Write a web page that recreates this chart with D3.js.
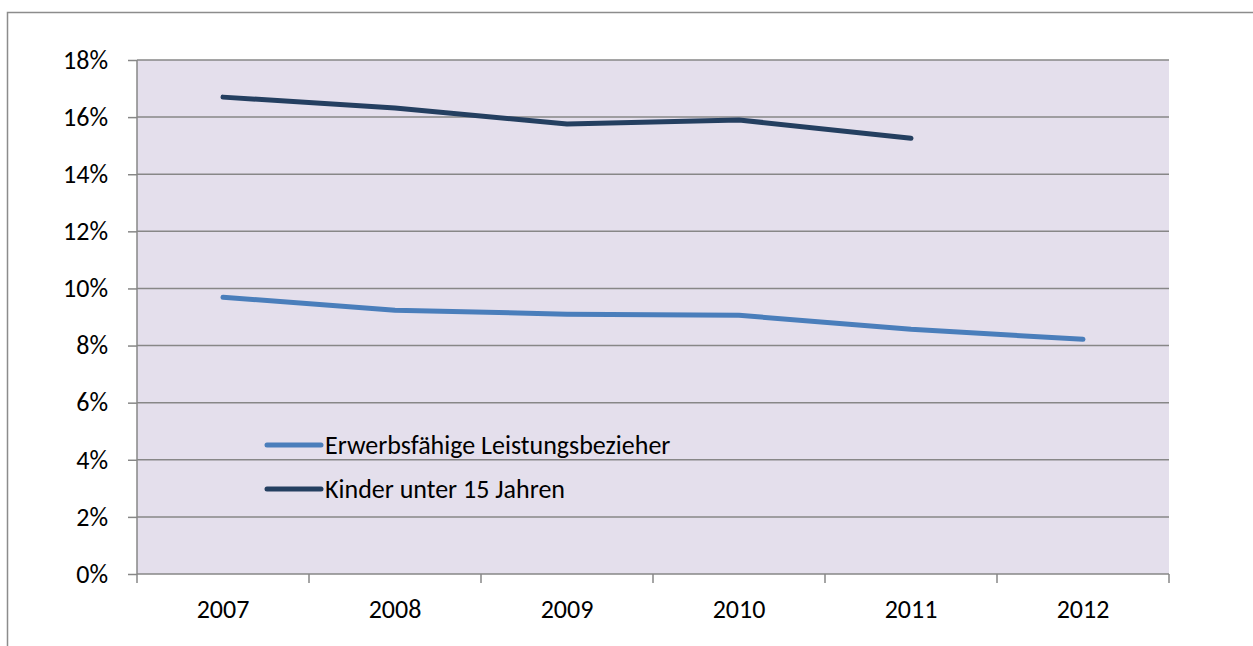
<!DOCTYPE html>
<html>
<head>
<meta charset="utf-8">
<style>
  body { margin: 0; background: #fff; }
  svg text { font-family: Carlito, Calibri, Lato, "Open Sans", sans-serif; fill: #000; }
</style>
<title>Leistungsbezieher 2007-2012</title>
</head>
<body>
<script src="https://cdn.jsdelivr.net/npm/d3@7"></script>
<script>
  // data (share in %)
  var years = ["2007", "2008", "2009", "2010", "2011", "2012"];
  var erwerbsfaehige = [9.69, 9.24, 9.10, 9.06, 8.57, 8.22];
  var kinder = [16.70, 16.32, 15.76, 15.90, 15.26, null];
  var yTicks = [0, 2, 4, 6, 8, 10, 12, 14, 16, 18];
  var seriesNames = ["Erwerbsfähige Leistungsbezieher", "Kinder unter 15 Jahren"];
  var seriesColors = ["#4a7ebb", "#243f60"];

  var width = 1253, height = 646;
  var plot = { left: 137, right: 1169, top: 60, bottom: 574 };
  var fontSize = 26;

  var svg = d3.select("body").append("svg")
    .attr("width", width)
    .attr("height", height);

  // outer chart frame (right/bottom edges fall outside the window)
  svg.append("rect")
    .attr("x", 7.5).attr("y", 12.5)
    .attr("width", 1250).attr("height", 650)
    .attr("fill", "none")
    .attr("stroke", "#8c8c8c")
    .attr("stroke-width", 1.5);

  var x = d3.scaleBand()
    .domain(years)
    .range([plot.left, plot.right]);
  var y = d3.scaleLinear()
    .domain([0, 18])
    .range([plot.bottom, plot.top]);

  // plot background
  svg.append("rect")
    .attr("x", plot.left).attr("y", plot.top)
    .attr("width", plot.right - plot.left)
    .attr("height", plot.bottom - plot.top)
    .attr("fill", "#e4dfec");

  // gridlines
  svg.append("g")
    .selectAll("line")
    .data(yTicks.slice(1))
    .enter()
    .append("line")
    .attr("x1", plot.left).attr("x2", plot.right)
    .attr("y1", function(d) { return y(d); })
    .attr("y2", function(d) { return y(d); })
    .attr("stroke", "#878787")
    .attr("stroke-width", 1.5);

  // Y axis
  var yAxis = svg.append("g")
    .attr("transform", "translate(" + plot.left + ",0)")
    .call(d3.axisLeft(y).tickValues(yTicks).tickSize(9).tickPadding(20)
      .tickFormat(function(d) { return d + "%"; }));
  yAxis.attr("font-size", null).attr("font-family", null);
  yAxis.selectAll("path, line").attr("stroke", "#878787").attr("stroke-width", 1.5);
  yAxis.select(".domain").attr("d", "M0," + plot.top + "V" + plot.bottom);
  yAxis.selectAll("text").style("font-size", fontSize + "px");

  // X axis with ticks at category boundaries
  var xAxis = svg.append("g")
    .attr("transform", "translate(0," + plot.bottom + ")")
    .call(d3.axisBottom(x).tickSize(0).tickPadding(26));
  xAxis.attr("font-size", null).attr("font-family", null);
  xAxis.select(".domain").attr("d", "M" + plot.left + ",0H" + plot.right)
    .attr("stroke", "#878787").attr("stroke-width", 1.5);
  xAxis.selectAll("text").style("font-size", fontSize + "px");

  var bounds = years.map(function(d) { return x(d); }).concat([x(years[years.length - 1]) + x.bandwidth()]);
  xAxis.selectAll(".bound")
    .data(bounds)
    .enter()
    .append("line")
    .attr("class", "bound")
    .attr("x1", function(d) { return d; })
    .attr("x2", function(d) { return d; })
    .attr("y1", 0).attr("y2", 9)
    .attr("stroke", "#878787")
    .attr("stroke-width", 1.5);

  // lines
  var line = d3.line()
    .defined(function(d) { return d != null; })
    .x(function(d, i) { return x(years[i]) + x.bandwidth() / 2; })
    .y(function(d) { return y(d); });

  [erwerbsfaehige, kinder].forEach(function(values, i) {
    svg.append("path")
      .datum(values)
      .attr("d", line)
      .attr("fill", "none")
      .attr("stroke", seriesColors[i])
      .attr("stroke-width", 5)
      .attr("stroke-linecap", "round")
      .attr("stroke-linejoin", "round");
  });

  // legend
  var legend = svg.append("g").attr("transform", "translate(267,445)");
  seriesNames.forEach(function(name, i) {
    var g = legend.append("g").attr("transform", "translate(0," + (i * 44) + ")");
    g.append("line")
      .attr("x1", 0).attr("x2", 54)
      .attr("stroke", seriesColors[i])
      .attr("stroke-width", 5)
      .attr("stroke-linecap", "round");
    g.append("text")
      .attr("x", 58)
      .attr("dy", "0.35em")
      .style("font-size", fontSize + "px")
      .text(name);
  });
</script>
</body>
</html>
